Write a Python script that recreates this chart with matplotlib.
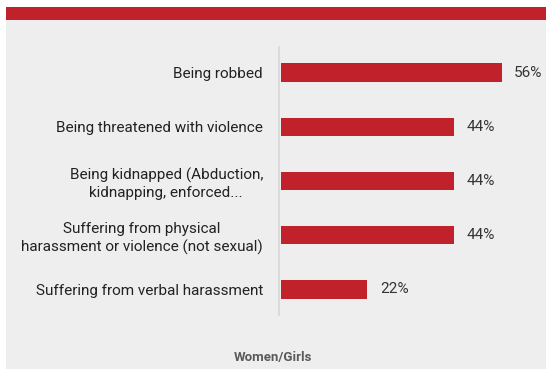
import matplotlib
matplotlib.use("Agg")
from matplotlib import pyplot as plt
from matplotlib.patches import Rectangle

# survey shares, top to bottom
categories = [
    "Being robbed",
    "Being threatened with violence",
    "Being kidnapped (Abduction,\nkidnapping, enforced...",
    "Suffering from physical\nharassment or violence (not sexual)",
    "Suffering from verbal harassment",
]
values = [56, 44, 44, 44, 22]
group_label = "Women/Girls"

red = "#c0212a"
plt.rcParams["font.family"] = ["Roboto", "DejaVu Sans"]

fig = plt.figure(figsize=(5.46, 3.69), dpi=100)
fig.patch.set_facecolor("white")

# grey card with a red header strip
fig.patches.append(Rectangle((6 / 546, 0), 1, 1 - 20 / 369, transform=fig.transFigure,
                             facecolor="#eeeeee", edgecolor="none", zorder=-10))
fig.patches.append(Rectangle((6 / 546, 1 - 20 / 369), 1, 13 / 369, transform=fig.transFigure,
                             facecolor=red, edgecolor="none", zorder=-10))

ax = fig.add_axes([279 / 546, 54 / 369, 267 / 546, 268 / 369])
ax.set_facecolor("none")
ax.set_zorder(5)

pos = list(range(len(categories)))
ax.barh(pos, values, height=0.35, color=red, left=0.4)
ax.set_xlim(0, 67.6)
ax.set_ylim(4.48, -0.48)

ax.set_yticks(pos)
ax.set_yticklabels(categories, fontsize=11, color="#222222",
                   multialignment="center", linespacing=1.3)
ax.tick_params(axis="y", length=0, pad=11.5)
ax.set_xticks([])

for s in ["top", "right", "bottom"]:
    ax.spines[s].set_visible(False)
ax.spines["left"].set_color("#d6d6d6")
ax.spines["left"].set_linewidth(1.2)

for p, v in zip(pos, values):
    ax.annotate(f"{v}%", (v + 0.4, p), xytext=(9, 0), textcoords="offset points",
                va="center", ha="left", fontsize=11, color="#333333")

fig.text(273 / 546, 1 - 357 / 369, group_label, ha="center", va="center",
         fontsize=9.5, fontweight="bold", color="#5a5a5a")

plt.savefig("out.png", dpi=100)
